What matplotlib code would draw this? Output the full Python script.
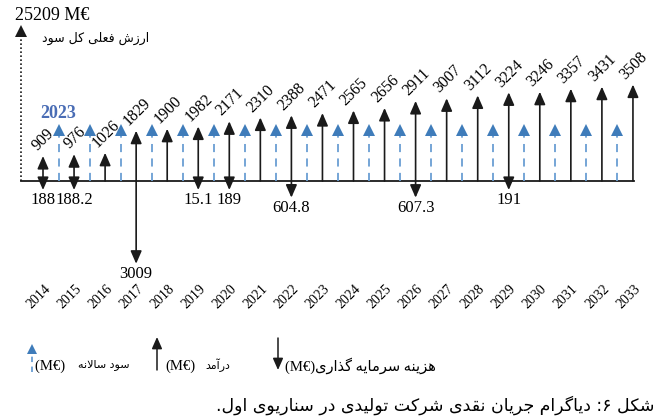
import numpy as np
import matplotlib
matplotlib.use('Agg')
import matplotlib.pyplot as plt

# values (M€)
years = list(range(2014, 2034))
revenue = [909, 976, 1026, 1829, 1900, 1982, 2171, 2310, 2388, 2471,
           2565, 2656, 2911, 3007, 3112, 3224, 3246, 3357, 3431, 3508]
invest_years = [2014, 2015, 2017, 2019, 2020, 2022, 2026, 2029]
invest = [188, 188.2, 3009, 15.1, 189, 604.8, 607.3, 191]
profit_years = years[:-1]      # profit arrows sit between the revenue arrows
profit_tag = "2023"
total_pv = 25209

# texts
pv_label = "ارزش فعلی کل سود"
leg_profit = "سود سالانه"
leg_revenue = "درآمد"
leg_invest = "هزینه سرمایه گذاری"
caption = "شکل ۶: دیاگرام جریان نقدی شرکت تولیدی در سناریوی اول."

# ---- minimal persian shaping (matplotlib does no arabic joining) ----
FORMS = {  # isolated, final, initial, medial
    'ا': ('\uFE8D', '\uFE8E', None, None),
    'آ': ('\uFE81', '\uFE82', None, None),
    'د': ('\uFEA9', '\uFEAA', None, None),
    'ذ': ('\uFEAB', '\uFEAC', None, None),
    'ر': ('\uFEAD', '\uFEAE', None, None),
    'ز': ('\uFEAF', '\uFEB0', None, None),
    'و': ('\uFEED', '\uFEEE', None, None),
    'ت': ('\uFE95', '\uFE96', '\uFE97', '\uFE98'),
    'ج': ('\uFE9D', '\uFE9E', '\uFE9F', '\uFEA0'),
    'س': ('\uFEB1', '\uFEB2', '\uFEB3', '\uFEB4'),
    'ش': ('\uFEB5', '\uFEB6', '\uFEB7', '\uFEB8'),
    'ع': ('\uFEC9', '\uFECA', '\uFECB', '\uFECC'),
    'ف': ('\uFED1', '\uFED2', '\uFED3', '\uFED4'),
    'ق': ('\uFED5', '\uFED6', '\uFED7', '\uFED8'),
    'ل': ('\uFEDD', '\uFEDE', '\uFEDF', '\uFEE0'),
    'م': ('\uFEE1', '\uFEE2', '\uFEE3', '\uFEE4'),
    'ن': ('\uFEE5', '\uFEE6', '\uFEE7', '\uFEE8'),
    'ه': ('\uFEE9', '\uFEEA', '\uFEEB', '\uFEEC'),
    'ک': ('\uFB8E', '\uFB8F', '\uFB90', '\uFB91'),
    'گ': ('\uFB92', '\uFB93', '\uFB94', '\uFB95'),
    'ی': ('\uFBFC', '\uFBFD', '\uFBFE', '\uFBFF'),
}
LAM_ALEF = {'ا': ('\uFEFB', '\uFEFC'), 'آ': ('\uFEF5', '\uFEF6')}


def joins_next(c):
    return c in FORMS and FORMS[c][2] is not None


def rtl(text):
    out = []
    i = 0
    while i < len(text):
        c = text[i]
        if c not in FORMS:
            out.append(c)
            i += 1
            continue
        p = i > 0 and joins_next(text[i - 1])
        if c == 'ل' and i + 1 < len(text) and text[i + 1] in LAM_ALEF:
            out.append(LAM_ALEF[text[i + 1]][1 if p else 0])
            i += 2
            continue
        n = joins_next(c) and i + 1 < len(text) and text[i + 1] in FORMS
        iso, fin, ini, med = FORMS[c]
        out.append(med if (p and n) else fin if p else ini if n else iso)
        i += 1
    return ''.join(out)[::-1]


# ---- layout ----
W, H = 661, 419
X0, DX = 43, 31.05       # pixel x of first year, pixel step per year
Y0, K = 181, 0.0275      # baseline pixel row, pixels per M€


def px(x):
    return (x - X0) / DX


def py(y):
    return (Y0 - y) / K


SERIF = ['Liberation Serif', 'DejaVu Sans']
BLACK = '#1a1a1a'
BLUE_HEAD = '#3f7cba'
BLUE_LINE = '#6a9ed3'

fig = plt.figure(figsize=(W / 100, H / 100), dpi=100)
ax = fig.add_axes([0, 0, 1, 1])
ax.set_xlim(px(0), px(W))
ax.set_ylim(py(H), py(0))
ax.axis('off')

xpos = {y: i for i, y in enumerate(years)}

# baseline
ax.plot([px(21), len(years) - 1 + 0.03], [0, 0], color=BLACK, lw=1.3, zorder=2)

# present value arrow (not to scale)
pv_x = px(21)
ax.plot([pv_x, pv_x], [0, py(36)], color=BLACK, lw=1.2, ls=(0, (1, 1.4)))
ax.plot(pv_x, py(31), marker='^', ms=8, color=BLACK, mew=0)
ax.text(px(52), py(16), f"{total_pv} M€", family=SERIF, fontsize=13,
        ha='center', va='center')
ax.text(px(96), py(38), rtl(pv_label), family=['DejaVu Sans'], fontsize=9,
        ha='center', va='center')

inv = dict(zip(invest_years, invest))
MIN_DOWN = 9 / K
head = dict(head_length=0.55, head_width=0.24)

for yr, rev in zip(years, revenue):
    x = xpos[yr]
    if yr in inv:
        down = -max(inv[yr], MIN_DOWN)
        style = '<|-|>,head_length={head_length},head_width={head_width}'.format(**head)
        start = down
    else:
        style = '-|>,head_length={head_length},head_width={head_width}'.format(**head)
        start = 0
    ax.annotate('', xy=(x, rev), xytext=(x, start),
                arrowprops=dict(arrowstyle=style, color=BLACK, lw=1.2,
                                shrinkA=0, shrinkB=0, mutation_scale=14))
    ax.text(x + 0.02, rev + 2 / K, f"{rev}", family=SERIF, fontsize=11.5,
            rotation=45, ha='center', va='bottom')
    if yr in inv:
        ax.text(x, down - 2 / K, f"{inv[yr]:g}", family=SERIF, fontsize=12,
                ha='center', va='top')

# annual profit arrows (drawn between years, fixed length)
PROFIT_LEN = 56 / K
HEAD_LEN = 10 / K
for yr in profit_years:
    x = xpos[yr] + 0.5
    ax.plot([x, x], [0, PROFIT_LEN - HEAD_LEN], color=BLUE_LINE, lw=1.3,
            dashes=(4.5, 3.5))
    ax.plot(x, PROFIT_LEN - HEAD_LEN / 2, marker='^', ms=8.5, color=BLUE_HEAD, mew=0)
ax.text(xpos[profit_years[0]] + 0.5, py(113), profit_tag, family=SERIF,
        fontsize=13, fontweight='bold', color='#4a6db5', ha='center', va='center')

# year labels
for yr in years:
    ax.text(xpos[yr] - 0.15, py(297), str(yr), family=SERIF, fontsize=10,
            rotation=45, ha='center', va='center')

# legend
lx = px(32)
ax.plot([lx, lx], [py(372), py(353)], color=BLUE_LINE, lw=1.3, dashes=(3, 2.5))
ax.plot(lx, py(349), marker='^', ms=7, color=BLUE_HEAD, mew=0)
ax.text(px(35), py(366), "(M€) ", family=SERIF, fontsize=10.5, ha='left', va='center')
ax.text(px(78), py(365), rtl(leg_profit), family=['DejaVu Sans'], fontsize=8,
        ha='left', va='center')

ax.annotate('', xy=(px(157), py(337)), xytext=(px(157), py(370)),
            arrowprops=dict(arrowstyle='-|>,head_length=0.5,head_width=0.22',
                            color=BLACK, lw=1.1, shrinkA=0, shrinkB=0, mutation_scale=14))
ax.text(px(165), py(366), "(M€)", family=SERIF, fontsize=10.5, ha='left', va='center')
ax.text(px(205), py(365), rtl(leg_revenue), family=['DejaVu Sans'], fontsize=8,
        ha='left', va='center')

ax.annotate('', xy=(px(278), py(370)), xytext=(px(278), py(338)),
            arrowprops=dict(arrowstyle='-|>,head_length=0.5,head_width=0.22',
                            color=BLACK, lw=1.1, shrinkA=0, shrinkB=0, mutation_scale=14))
ax.text(px(285), py(366), "(M€)" + rtl(leg_invest), family=SERIF, fontsize=10.5,
        ha='left', va='center')

# caption
ax.text(px(655), py(405), rtl(caption), family=['DejaVu Sans'], fontsize=12.5,
        ha='right', va='center')

fig.savefig('out.png', dpi=100)
